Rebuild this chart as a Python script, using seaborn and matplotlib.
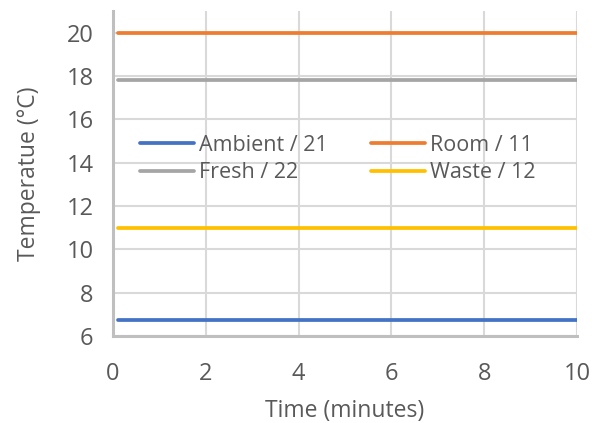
import matplotlib
matplotlib.use("Agg")
import matplotlib.pyplot as plt
import seaborn as sns
import pandas as pd

time_min = [0.1, 2, 4, 6, 8, 10]
ambient = [6.75, 6.75, 6.75, 6.75, 6.75, 6.75]
room = [20.0, 20.0, 20.0, 20.0, 20.0, 20.0]
fresh = [17.8, 17.8, 17.8, 17.8, 17.8, 17.8]
waste = [11.0, 11.0, 11.0, 11.0, 11.0, 11.0]
series_names = ["Ambient / 21", "Room / 11", "Fresh / 22", "Waste / 12"]
colors = ["#4472C4", "#ED7D31", "#A5A5A5", "#FFC000"]

rows = []
for name, vals in zip(series_names, [ambient, room, fresh, waste]):
    for t, v in zip(time_min, vals):
        rows.append({"Time": t, "Temp": v, "Series": name})
df = pd.DataFrame(rows)

sns.set_theme(style="white")
plt.rcParams['font.family'] = ['Open Sans', 'DejaVu Sans']

fig = plt.figure(figsize=(5.96, 4.23), dpi=100)
ax = fig.add_axes([113/596, 1-336/423, (577-113)/596, (336-11)/423])
sns.lineplot(data=df, x="Time", y="Temp", hue="Series", hue_order=series_names,
             palette=colors, linewidth=2.7, ax=ax, legend=True)

ax.set_xlim(0, 10)
ax.set_ylim(6, 21)
ax.set_xticks([0, 2, 4, 6, 8, 10])
ax.set_yticks([6, 8, 10, 12, 14, 16, 18, 20])
ax.grid(True, color="#d9d9d9", linewidth=1.5)
ax.set_axisbelow(True)
for s in ["top", "right"]:
    ax.spines[s].set_visible(False)
for s in ["left", "bottom"]:
    ax.spines[s].set_color("#bfbfbf")
    ax.spines[s].set_linewidth(2.2)
ax.tick_params(axis="both", colors="#595959", labelsize=17, length=0)
ax.tick_params(axis="y", pad=14)
ax.tick_params(axis="x", pad=19)
ax.set_xlabel("Time (minutes)", fontsize=16.5, color="#595959", labelpad=9)
ax.set_ylabel("Temperatue (°C)", fontsize=16.5, color="#595959", labelpad=18)

handles, labels = ax.get_legend_handles_labels()
order = [0, 2, 1, 3]
leg = ax.legend([handles[i] for i in order], [labels[i] for i in order],
                ncol=2, frameon=False, fontsize=15.5, loc="upper left",
                bbox_to_anchor=(0.04, 0.645), handlelength=2.5, handletextpad=0.25,
                columnspacing=2.0, labelspacing=0.3, borderaxespad=0)
for t in leg.get_texts():
    t.set_color("#595959")

fig.savefig("out.png", dpi=100)
